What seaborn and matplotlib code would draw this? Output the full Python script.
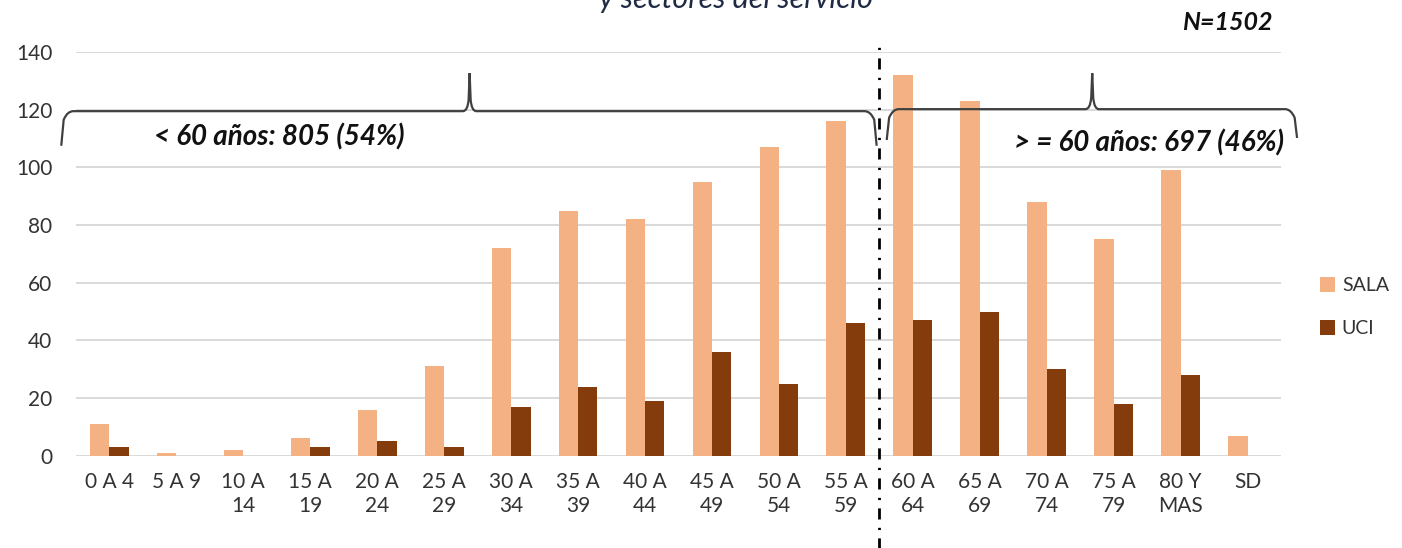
import matplotlib
matplotlib.use("Agg")
import matplotlib.pyplot as plt
from matplotlib.path import Path
from matplotlib.patches import PathPatch
import seaborn as sns
import pandas as pd

grupos = ["0 A 4", "5 A 9", "10 A\n14", "15 A\n19", "20 A\n24", "25 A\n29", "30 A\n34",
          "35 A\n39", "40 A\n44", "45 A\n49", "50 A\n54", "55 A\n59", "60 A\n64",
          "65 A\n69", "70 A\n74", "75 A\n79", "80 Y\nMAS", "SD"]
sala = [11, 1, 2, 6, 16, 31, 72, 85, 82, 95, 107, 116, 132, 123, 88, 75, 99, 7]
uci = [3, 0, 0, 3, 5, 3, 17, 24, 19, 36, 25, 46, 47, 50, 30, 18, 28, 0]
servicios = ["SALA", "UCI"]
colores = {"SALA": "#F4B183", "UCI": "#843C0C"}

df = pd.DataFrame({
    "grupo": grupos * 2,
    "casos": sala + uci,
    "servicio": ["SALA"] * len(grupos) + ["UCI"] * len(grupos),
})

sns.set_style("white")
plt.rcParams["font.family"] = ["Lato", "DejaVu Sans"]

fig = plt.figure(figsize=(14.02, 5.48), dpi=100)
ax = fig.add_axes([0.0542, 0.1684, 0.8595, 0.7366])

sns.barplot(data=df, x="grupo", y="casos", hue="servicio", order=grupos,
            hue_order=servicios, palette=colores, width=0.58, saturation=1,
            linewidth=0, ax=ax)

ax.set_xlim(-0.5, len(grupos) - 0.5)
ax.set_ylim(0, 140)
ax.set_yticks(range(0, 141, 20))
ax.yaxis.grid(True, color="#D9D9D9", linewidth=1.4)
ax.set_axisbelow(True)
for s in ax.spines.values():
    s.set_visible(False)
ax.tick_params(axis="both", length=0, colors="#333333", labelsize=15)
ax.tick_params(axis="y", pad=17)
ax.tick_params(axis="x", pad=12)
ax.set_xlabel("")
ax.set_ylabel("")
for t in ax.get_xticklabels():
    t.set_linespacing(1.25)

# separador <60 / >=60
ax.axvline(11.5, ymin=-0.25, ymax=1.03, clip_on=False, color="black",
           linewidth=2, linestyle=(0, (4, 3, 0.8, 3)))


def llave(ax, x0, x1, xm, y, y_izq, y_der, y_pico, r=0.09, dp=0.1):
    verts = [(x0, y_izq), (x0 + r * 0.4, y - 3), (x0 + r, y), (x0 + 2 * r, y),
             (xm - dp, y), (xm - dp * 0.3, y), (xm - dp * 0.15, y + 4),
             (xm, y_pico),
             (xm + dp * 0.15, y + 4), (xm + dp * 0.3, y), (xm + dp, y),
             (x1 - 2 * r, y), (x1 - r, y), (x1 - r * 0.4, y - 3), (x1, y_der)]
    codes = [Path.MOVETO, Path.LINETO, Path.CURVE3, Path.CURVE3,
             Path.LINETO, Path.CURVE3, Path.CURVE3,
             Path.LINETO,
             Path.LINETO, Path.CURVE3, Path.CURVE3,
             Path.LINETO, Path.CURVE3, Path.CURVE3, Path.LINETO]
    ax.add_patch(PathPatch(Path(verts, codes), fill=False, edgecolor="#404040",
                           linewidth=1.6, clip_on=False))


llave(ax, -0.72, 11.46, 5.38, 119.5, 107.5, 107.5, 132.7)
llave(ax, 11.61, 17.74, 14.68, 120.2, 109.5, 110.2, 132.7)

ax.text(2.53, 110.5, "< 60 años: 805 (54%)", fontsize=20, fontweight="bold",
        fontstyle="italic", ha="center", va="center", color="#111111")
ax.text(17.55, 108.5, "> = 60 años: 697 (46%)", fontsize=20, fontweight="bold",
        fontstyle="italic", ha="right", va="center", color="#111111")

fig.text(1273 / 1402, 1 - 23 / 548, "N=1502", fontsize=18, fontweight="bold",
         fontstyle="italic", ha="right", va="center", color="#111111")
fig.text(736 / 1402, 1 + 1 / 548, "y sectores del servicio", fontsize=22,
         fontstyle="italic", ha="center", va="center", color="#1F2A44")

ax.legend(loc="center left", bbox_to_anchor=(1302 / 1402, 1 - 307 / 548),
          bbox_transform=fig.transFigure, frameon=False, fontsize=14,
          handlelength=0.8, handleheight=0.8, handletextpad=0.35,
          labelspacing=1.3, labelcolor="#333333")

fig.savefig("out.png", dpi=100)
